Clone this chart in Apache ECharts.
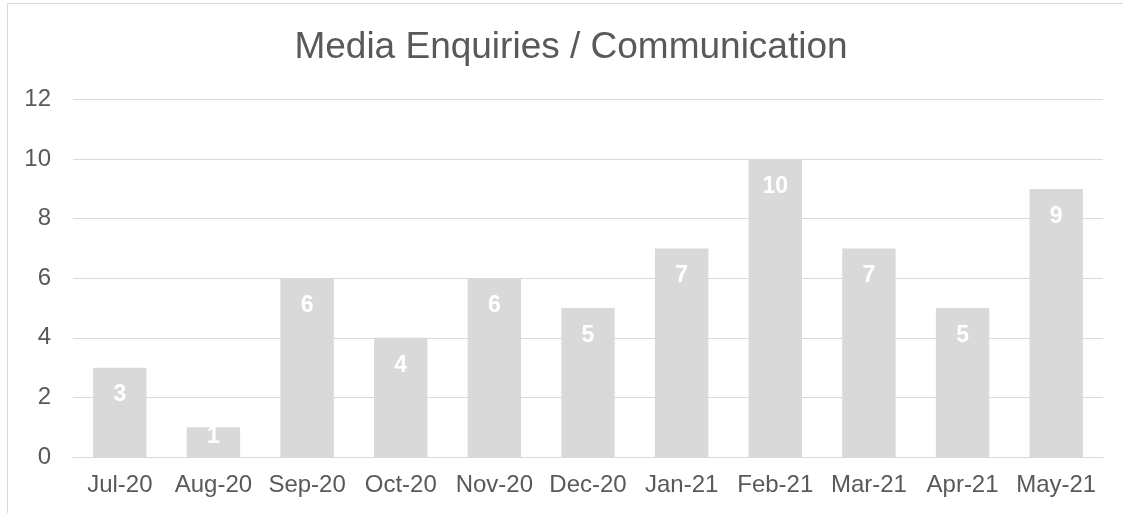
<!DOCTYPE html>
<html>
<head>
<meta charset="utf-8">
<script src="https://cdn.jsdelivr.net/npm/echarts@6/dist/echarts.min.js"></script>
<style>
  html, body { margin: 0; padding: 0; background: #ffffff; }
  #chart { width: 1123px; height: 513px; }
</style>
</head>
<body>
<div id="chart"></div>
<script>
// Monthly counts of media enquiries / communications
const months = ['Jul-20', 'Aug-20', 'Sep-20', 'Oct-20', 'Nov-20', 'Dec-20', 'Jan-21', 'Feb-21', 'Mar-21', 'Apr-21', 'May-21'];
const enquiries = [3, 1, 6, 4, 6, 5, 7, 10, 7, 5, 9];
const yTicks = [0, 2, 4, 6, 8, 10, 12];

const textColor = '#595959';
const lineColor = '#d9d9d9';
const font = 'Liberation Sans, Arial, sans-serif';

// Short bars keep their value label flush with the top edge
const barData = enquiries.map(v => v <= 1
  ? { value: v, label: { distance: -2 } }
  : v);

const chart = echarts.init(document.getElementById('chart'), null, { renderer: 'canvas' });
chart.setOption({
  animation: false,
  backgroundColor: '#ffffff',
  title: {
    text: 'Media Enquiries / Communication',
    left: 566,
    textAlign: 'center',
    top: 24,
    textStyle: { color: textColor, fontSize: 37, fontWeight: 'normal', fontFamily: font }
  },
  graphic: [{
    type: 'rect',
    shape: { x: 7.5, y: 3.5, width: 1300, height: 700 },
    style: { fill: null, stroke: lineColor, lineWidth: 1 },
    silent: true
  }],
  grid: { left: 73, right: 20, top: 99.5, bottom: 56, containLabel: false },
  xAxis: {
    type: 'category',
    data: months,
    axisLine: { show: true, lineStyle: { color: lineColor, width: 1 } },
    axisTick: { show: false },
    axisLabel: { color: textColor, fontSize: 24, fontFamily: font, margin: 16, interval: 0 }
  },
  yAxis: {
    type: 'value',
    min: yTicks[0],
    max: yTicks[yTicks.length - 1],
    interval: yTicks[1] - yTicks[0],
    axisLine: { show: false },
    axisTick: { show: false },
    axisLabel: { color: textColor, fontSize: 24, fontFamily: font, margin: 22 },
    splitLine: { show: true, lineStyle: { color: lineColor, width: 1 } }
  },
  series: [{
    type: 'bar',
    data: barData,
    barWidth: '57%',
    itemStyle: { color: '#d9d9d9' },
    label: {
      show: true,
      position: 'insideTop',
      distance: 16,
      color: '#ffffff',
      fontSize: 23,
      fontWeight: 'bold',
      fontFamily: font
    }
  }]
});
</script>
</body>
</html>
